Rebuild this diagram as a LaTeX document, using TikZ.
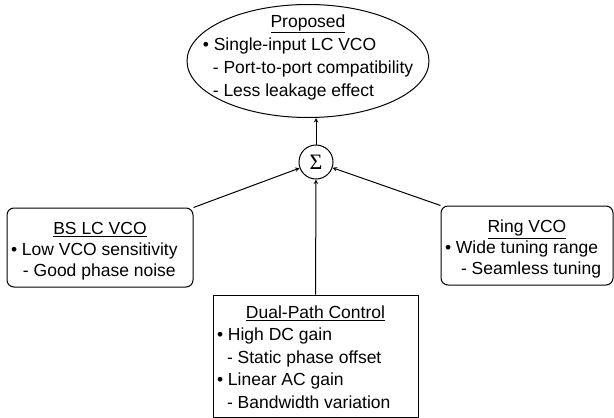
\documentclass[tikz,border=0pt]{standalone}
\usepackage{fontspec}
\setmainfont{Liberation Sans}
\newfontfamily\sigmafont{Liberation Serif}
\usetikzlibrary{shapes.geometric}

\begin{document}
\begin{tikzpicture}[
    x=1pt, y=-1pt,
    box/.style={draw,line width=1pt,inner sep=3pt},
    rbox/.style={box,rounded corners=7pt},
    sum/.style={draw,line width=1pt,circle,minimum size=34pt,inner sep=0pt},
    >=stealth
]
\useasboundingbox (0,0) rectangle (614,418);

% target of the merged features
\node[draw,line width=1pt,ellipse,minimum width=242pt,minimum height=113pt] (prop) at (308,61) {};
\node[font=\fontsize{17.5}{23}\selectfont] (propText) at (308,57) {\begin{tabular}{@{}l@{}}
  \multicolumn{1}{c}{\underline{Proposed}}\\
  • Single-input LC VCO\\
  \hspace{10pt}- Port-to-port compatibility\\
  \hspace{10pt}- Less leakage effect
\end{tabular}};

\node[sum,font=\sigmafont\fontsize{22}{22}\selectfont] (sum) at (316,162) {Σ};

% the three sources (extra strut on top pushes the text down a bit)
\node[rbox,minimum width=186pt,minimum height=79pt,font=\fontsize{17.5}{21}\selectfont] (bs) at (100,247.5) {\begin{tabular}{@{}p{178pt}@{}}
  \multicolumn{1}{c}{\rule{0pt}{23pt}\underline{BS LC VCO}}\\
  • Low VCO sensitivity\\
  \hspace{12pt}- Good phase noise
\end{tabular}};

\node[rbox,minimum width=172pt,minimum height=79pt,font=\fontsize{17.5}{21}\selectfont] (ring) at (527,245.5) {\begin{tabular}{@{}p{164pt}@{}}
  \multicolumn{1}{c}{\rule{0pt}{23pt}\underline{Ring VCO}}\\
  • Wide tuning range\\
  \hspace{16pt}- Seamless tuning
\end{tabular}};

\node[box,minimum width=205pt,minimum height=119pt,font=\fontsize{17.5}{22.5}\selectfont] (dual) at (315.5,356.5) {\begin{tabular}{@{}p{197pt}@{}}
  \multicolumn{1}{c}{\rule{0pt}{20pt}\underline{Dual-Path Control}}\\
  • High DC gain\\
  \hspace{10pt}- Static phase offset\\
  • Linear AC gain\\
  \hspace{10pt}- Bandwidth variation
\end{tabular}};

\draw[->,line width=1pt] (bs.north east) -- (sum);
\draw[->,line width=1pt] (ring.north west) -- (sum);
\draw[->,line width=1pt] (dual.north) -- (sum.south);
\draw[->,line width=1pt] (sum.north) -- (sum.north |- prop.south);
\end{tikzpicture}
\end{document}
